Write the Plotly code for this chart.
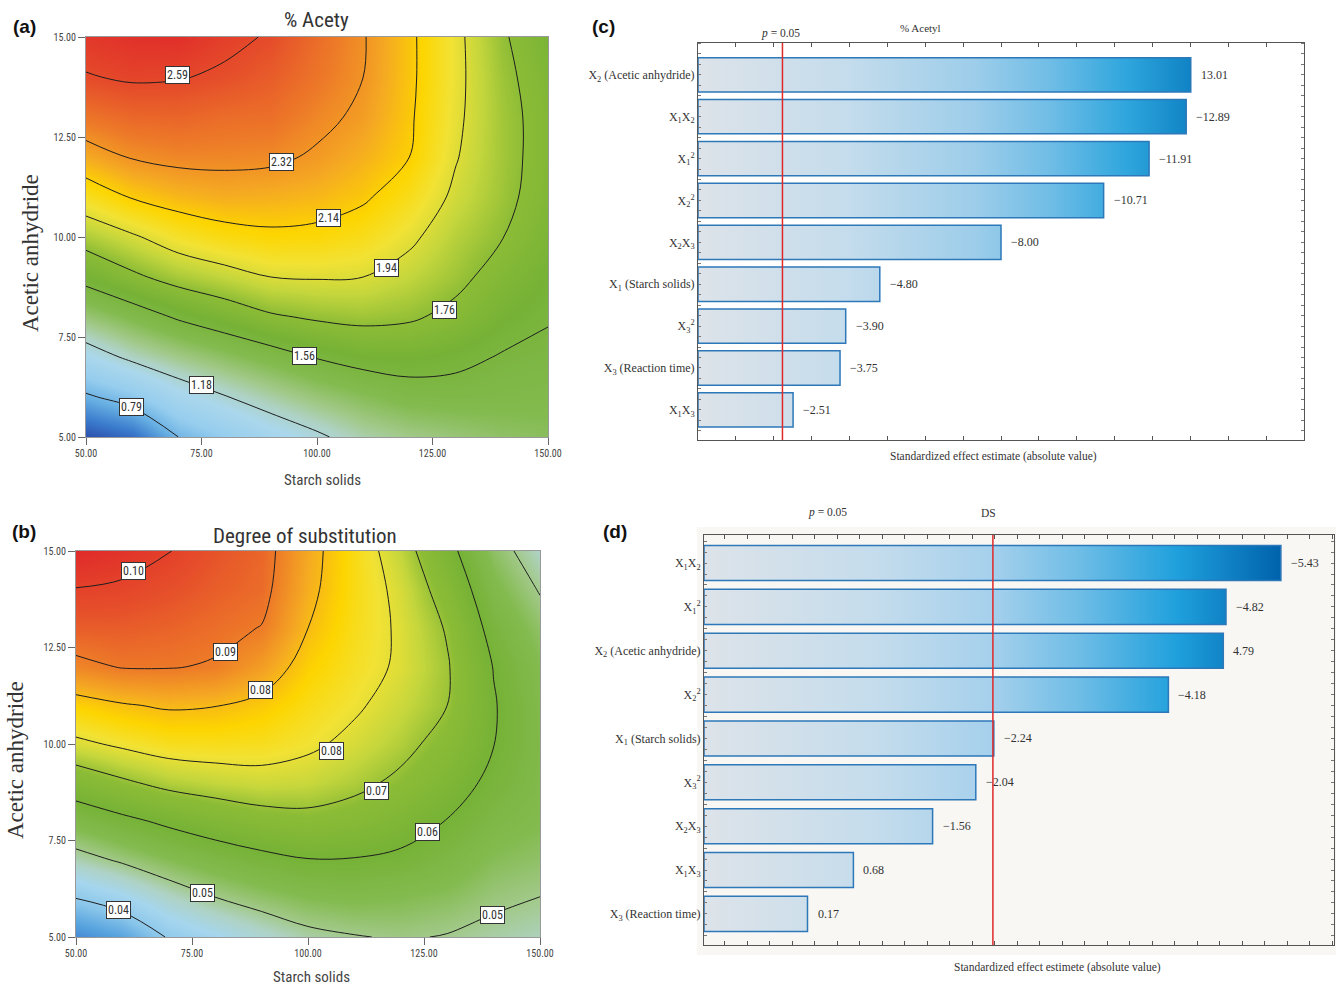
import plotly.graph_objects as go

W, H = 1336, 987

# ---------------- response surfaces (rows: acetic anhydride, cols: starch solids)
starch = [50, 60, 70, 80, 90, 100, 110, 120, 130, 140, 150]
anhydride = [5, 6, 7, 8, 9, 10, 11, 12, 13, 14, 15]

acetyl = [
    [0.44, 0.53, 0.79, 0.92, 1.05, 1.15, 1.26, 1.32, 1.36, 1.40, 1.42],
    [0.76, 0.88, 1.06, 1.17, 1.27, 1.36, 1.43, 1.49, 1.50, 1.49, 1.48],
    [1.08, 1.22, 1.32, 1.41, 1.49, 1.57, 1.62, 1.63, 1.60, 1.55, 1.53],
    [1.36, 1.47, 1.58, 1.66, 1.74, 1.78, 1.80, 1.78, 1.72, 1.63, 1.57],
    [1.62, 1.73, 1.82, 1.88, 1.94, 1.95, 1.94, 1.88, 1.80, 1.70, 1.62],
    [1.83, 1.92, 2.02, 2.08, 2.11, 2.10, 2.06, 1.97, 1.85, 1.765, 1.66],
    [2.04, 2.15, 2.21, 2.24, 2.23, 2.21, 2.16, 2.06, 1.91, 1.80, 1.69],
    [2.25, 2.33, 2.36, 2.36, 2.35, 2.30, 2.23, 2.14, 1.95, 1.81, 1.70],
    [2.42, 2.47, 2.48, 2.45, 2.44, 2.36, 2.29, 2.16, 1.97, 1.81, 1.70],
    [2.58, 2.61, 2.60, 2.565, 2.51, 2.42, 2.32, 2.17, 1.98, 1.80, 1.68],
    [2.66, 2.69, 2.70, 2.63, 2.575, 2.45, 2.33, 2.17, 1.98, 1.78, 1.65],
]

ds = [
    [0.0320, 0.0352, 0.0415, 0.0445, 0.0477, 0.0505, 0.0517, 0.0525, 0.0517, 0.0505, 0.0495],
    [0.0410, 0.0441, 0.0485, 0.0518, 0.0542, 0.0560, 0.0567, 0.0560, 0.0551, 0.0530, 0.0519],
    [0.0498, 0.0528, 0.0558, 0.0583, 0.0603, 0.0618, 0.0617, 0.0608, 0.0585, 0.0555, 0.0543],
    [0.0576, 0.0605, 0.0632, 0.0655, 0.0674, 0.0682, 0.0672, 0.0648, 0.0618, 0.0582, 0.0563],
    [0.0660, 0.0691, 0.0717, 0.0730, 0.0739, 0.0734, 0.0715, 0.0688, 0.0650, 0.0605, 0.0573],
    [0.0748, 0.0769, 0.0786, 0.0789, 0.0786, 0.0770, 0.0746, 0.0717, 0.0678, 0.0621, 0.0576],
    [0.0815, 0.0835, 0.0847, 0.0842, 0.0824, 0.0793, 0.0768, 0.0737, 0.0700, 0.0624, 0.0572],
    [0.0905, 0.0923, 0.0923, 0.0915, 0.0875, 0.0816, 0.0782, 0.0752, 0.0705, 0.0618, 0.0561],
    [0.0956, 0.0957, 0.0949, 0.0935, 0.0918, 0.0840, 0.0790, 0.0752, 0.0695, 0.0598, 0.0543],
    [0.0998, 0.0991, 0.0975, 0.0955, 0.0938, 0.0855, 0.0795, 0.0745, 0.0672, 0.0572, 0.0516],
    [0.1040, 0.1025, 0.1002, 0.0970, 0.0945, 0.0862, 0.0795, 0.0728, 0.0642, 0.0545, 0.0488],
]

acetyl_levels = [0.79, 1.18, 1.56, 1.76, 1.94, 2.14, 2.32, 2.59]
ds_levels = [0.041, 0.052, 0.062, 0.070, 0.076, 0.084, 0.092, 0.100]

# contour label anchors: (level index, starch, anhydride)
acetyl_tags = [(7, 69.9, 14.06), (6, 92.3, 11.87), (5, 102.4, 10.47), (4, 115.1, 9.22),
               (3, 127.5, 8.17), (2, 97.3, 7.02), (1, 74.9, 6.29), (0, 59.8, 5.75)]
ds_tags = [(7, 62.3, 14.48), (6, 82.2, 12.38), (5, 89.8, 11.39), (4, 105.0, 9.83),
           (3, 114.7, 8.78), (2, 125.8, 7.73), (1, 77.3, 6.14), (0, 59.2, 5.71),
           (1, 139.8, 5.56)]

# colour ramps (value, colour)
acetyl_ramp = [(0.42, '#2a4aa8'), (0.58, '#3a7acc'), (0.75, '#66aee2'), (0.92, '#96cdee'),
               (1.10, '#aad7ec'), (1.22, '#aed2c4'), (1.32, '#a2c98a'), (1.45, '#84bb50'),
               (1.62, '#76b236'), (1.76, '#8cbc36'), (1.88, '#c4d63c'), (2.00, '#f2e234'),
               (2.12, '#fdd500'), (2.25, '#f5aa22'), (2.40, '#ed7a28'), (2.55, '#e6522a'),
               (2.72, '#e02a2a')]
ds_ramp = [(0.030, '#3a7acc'), (0.035, '#56a2de'), (0.040, '#8ac6ea'), (0.045, '#a6d6ee'),
           (0.049, '#aed2c4'), (0.052, '#a2c98a'), (0.056, '#84bb50'), (0.062, '#76b236'),
           (0.069, '#8cbc36'), (0.073, '#c4d63c'), (0.077, '#f2e234'), (0.081, '#fdd500'),
           (0.086, '#f5aa22'), (0.092, '#ed7a28'), (0.097, '#e6522a'), (0.104, '#e02a2a')]

# ---------------- Pareto charts of standardized effects
terms_acetyl = ["X<sub>2</sub> (Acetic anhydride)", "X<sub>1</sub>X<sub>2</sub>",
                "X<sub>1</sub><sup>2</sup>", "X<sub>2</sub><sup>2</sup>",
                "X<sub>2</sub>X<sub>3</sub>", "X<sub>1</sub> (Starch solids)",
                "X<sub>3</sub><sup>2</sup>", "X<sub>3</sub> (Reaction time)",
                "X<sub>1</sub>X<sub>3</sub>"]
effects_acetyl = [13.01, -12.89, -11.91, -10.71, -8.00, -4.80, -3.90, -3.75, -2.51]

terms_ds = ["X<sub>1</sub>X<sub>2</sub>", "X<sub>1</sub><sup>2</sup>",
            "X<sub>2</sub> (Acetic anhydride)", "X<sub>2</sub><sup>2</sup>",
            "X<sub>1</sub> (Starch solids)", "X<sub>3</sub><sup>2</sup>",
            "X<sub>2</sub>X<sub>3</sub>", "X<sub>1</sub>X<sub>3</sub>",
            "X<sub>3</sub> (Reaction time)"]
effects_ds = [-5.43, -4.82, 4.79, -4.18, -2.24, -2.04, -1.56, 0.68, 0.17]

p_crit = 2.23

NARROW = "Liberation Sans Narrow, Roboto Condensed, Arial Narrow, Liberation Sans, sans-serif"
SERIF = "Liberation Serif, DejaVu Serif, serif"
SANS = "Liberation Sans, Arial, sans-serif"


def ramp_to_scale(ramp):
    lo, hi = ramp[0][0], ramp[-1][0]
    return [[(v - lo) / (hi - lo), c] for v, c in ramp], lo, hi


def px(x):
    return x / W


def py(y):
    return 1 - y / H


fig = go.Figure()
annotations = []


def add_surface(z, levels, ramp, tags, xa, ya):
    cs, lo, hi = ramp_to_scale(ramp)
    fig.add_trace(go.Heatmap(x=starch, y=anhydride, z=z, colorscale=cs, zmin=lo, zmax=hi,
                             zsmooth='best', showscale=False, hoverinfo='skip',
                             xaxis=xa, yaxis=ya))
    for lev in levels:
        fig.add_trace(go.Contour(x=starch, y=anhydride, z=z, autocontour=False,
                                 contours=dict(start=lev, end=lev, size=1, coloring='none'),
                                 line=dict(color='#1e1e1e', width=1, smoothing=1.0),
                                 showscale=False, hoverinfo='skip', xaxis=xa, yaxis=ya))
    for k, sx, sy in tags:
        annotations.append(dict(x=sx, y=sy, xref=xa, yref=ya, text=f"{levels[k]:.2f}",
                                showarrow=False, bgcolor='white', bordercolor='#333',
                                borderwidth=1, borderpad=1,
                                font=dict(family=NARROW, size=12, color='#333')))


add_surface(acetyl, acetyl_levels, acetyl_ramp, acetyl_tags, 'x', 'y')
add_surface(ds, ds_levels, ds_ramp, ds_tags, 'x2', 'y2')

bar_ramp_c = [[0, '#dde3e9'], [0.3, '#c4dcec'], [0.55, '#9dcdea'], [0.7, '#6fbde6'],
              [0.85, '#2fa6dd'], [1, '#0a7dc0']]
bar_ramp_d = [[0, '#dde3e9'], [0.3, '#c4dcec'], [0.5, '#a5d0ec'], [0.65, '#6fbde6'],
              [0.82, '#1fa0dc'], [1, '#0062ac']]


def add_pareto(effects, base, grad_stop, ramp, xa, ya, half=0.41):
    for i, v in enumerate(effects):
        e = abs(v)
        fig.add_trace(go.Scatter(
            x=[base, e, e, base, base], y=[i - half, i - half, i + half, i + half, i - half],
            mode='lines', fill='toself',
            fillgradient=dict(type='horizontal', colorscale=ramp, start=base, stop=grad_stop),
            line=dict(color='#2c78b8', width=1.5), hoverinfo='skip', showlegend=False,
            xaxis=xa, yaxis=ya))
        txt = f"{v:.2f}".replace('-', '\u2212')
        annotations.append(dict(x=e, y=i, xref=xa, yref=ya, text=txt, showarrow=False,
                                xanchor='left', xshift=8,
                                font=dict(family=SERIF, size=12, color='#333')))


C_MIN, C_MAX = 0, 16
D_MIN, D_MAX = -0.98, 6.02
add_pareto(effects_acetyl, C_MIN, 13.3, bar_ramp_c, 'x3', 'y3')
add_pareto(effects_ds, D_MIN, 5.43, bar_ramp_d, 'x4', 'y4', half=0.40)

# ---------------- axes
surf_x = dict(range=[50, 150], tickvals=[50, 75, 100, 125, 150], tickformat='.2f',
              ticks='outside', ticklen=7, tickcolor='#666', showline=True, linecolor='#999',
              linewidth=1, mirror=True, showgrid=False, zeroline=False,
              tickfont=dict(family=NARROW, size=10, color='#444'))
surf_y = dict(range=[5, 15], tickvals=[5, 7.5, 10, 12.5, 15], tickformat='.2f',
              ticks='outside', ticklen=7, tickcolor='#666', showline=True, linecolor='#999',
              linewidth=1, mirror=True, showgrid=False, zeroline=False,
              tickfont=dict(family=NARROW, size=10, color='#444'))

par_x = dict(showticklabels=False, ticks='inside', ticklen=4, tickcolor='#555',
             showline=True, linecolor='#555', linewidth=1, mirror='ticks', showgrid=False,
             zeroline=False)
par_y = dict(tickmode='array', tickvals=list(range(9)), ticks='', showline=True,
             linecolor='#555', linewidth=1, mirror='ticks', showgrid=False, zeroline=False,
             minor=dict(tickmode='linear', tick0=0, dtick=0.25, ticks='inside', ticklen=3,
                        tickcolor='#777', showgrid=False),
             tickfont=dict(family=SERIF, size=12, color='#333'))

fig.update_layout(
    xaxis=dict(surf_x, domain=[px(86), px(548)], anchor='y'),
    yaxis=dict(surf_y, domain=[py(437), py(37)], anchor='x'),
    xaxis2=dict(surf_x, domain=[px(76), px(540)], anchor='y2'),
    yaxis2=dict(surf_y, domain=[py(937), py(551)], anchor='x2'),
    xaxis3=dict(par_x, domain=[px(698), px(1304)], anchor='y3', range=[C_MIN, C_MAX], dtick=1),
    yaxis3=dict(par_y, domain=[py(440), py(43)], anchor='x3', range=[8.72, -0.76],
                ticktext=terms_acetyl),
    xaxis4=dict(par_x, domain=[px(704), px(1334)], anchor='y4', range=[D_MIN, D_MAX],
                tick0=0, dtick=0.25),
    yaxis4=dict(par_y, domain=[py(945), py(535)], anchor='x4', range=[8.71, -0.64],
                ticktext=terms_ds),
)

# significance thresholds
for xa, ya in (('x3', 'y3'), ('x4', 'y4')):
    fig.add_shape(type='line', x0=p_crit, x1=p_crit, y0=0, y1=1, xref=xa, yref=f'{ya} domain',
                  line=dict(color='#e02a2a', width=1.5))

# faint panel backdrop behind (d)
fig.add_shape(type='rect', xref='paper', yref='paper', x0=px(697), x1=1, y0=py(955), y1=py(527),
              fillcolor='#f8f7f3', line=dict(width=0), layer='below')


def note(x, y, text, family, size, color='#222', **kw):
    annotations.append(dict(x=px(x), y=py(y), xref='paper', yref='paper', text=text,
                            xanchor='center', yanchor='middle',
                            showarrow=False, font=dict(family=family, size=size, color=color),
                            **kw))


# panel tags
for tag, x, y in (("(a)", 24, 27), ("(b)", 24, 531), ("(c)", 603, 27), ("(d)", 615, 531)):
    note(x, y, f"<b>{tag}</b>", SANS, 19, '#111')

# surface titles and axis names
note(316, 20, "% Acety", NARROW, 21, '#333')
note(305, 536, "Degree of substitution", NARROW, 21, '#333')
note(322, 480, "Starch solids", NARROW, 15, '#444')
note(311, 977, "Starch solids", NARROW, 15, '#444')
note(30, 253, "Acetic anhydride", SERIF, 23, '#333', textangle=-90)
note(15, 760, "Acetic anhydride", SERIF, 23, '#333', textangle=-90)

# Pareto captions
note(920, 28, "% Acetyl", SERIF, 11, '#333')
note(780, 33, "<i>p</i> = 0.05", SERIF, 11.5, '#333')
note(993, 456, "Standardized effect estimate (absolute value)", SERIF, 11.5, '#333')
note(828, 512, "<i>p</i> = 0.05", SERIF, 11.5, '#333')
note(988, 513, "DS", SERIF, 11.5, '#333')
note(1057, 967, "Standardized effect estimete (absolute value)", SERIF, 11.5, '#333')

fig.update_layout(
    width=W, height=H, autosize=False,
    margin=dict(l=0, r=0, t=0, b=0, autoexpand=False),
    paper_bgcolor='white', plot_bgcolor='white', showlegend=False,
    annotations=annotations,
)

fig.write_html("out.html")
